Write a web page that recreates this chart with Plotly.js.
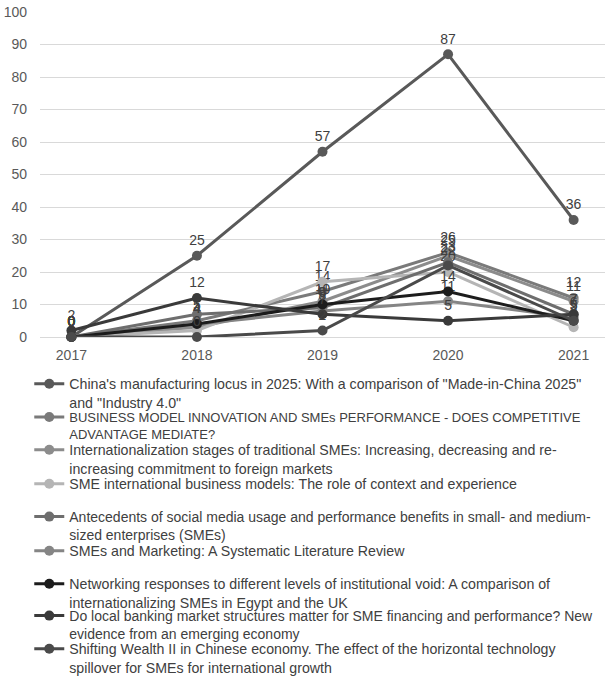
<!DOCTYPE html>
<html>
<head>
<meta charset="utf-8">
<script src="https://cdn.plot.ly/plotly-3.0.1.min.js"></script>
<style>html,body{margin:0;padding:0;background:#fff;}#chart{width:614px;height:681px;}</style>
</head>
<body>
<div id="chart"></div>
<script>
const years = [2017, 2018, 2019, 2020, 2021];
const seriesNames = [
  "China's manufacturing locus in 2025: With a comparison of \"Made-in-China 2025\"<br>and \"Industry 4.0\"",
  "BUSINESS MODEL INNOVATION AND SMEs PERFORMANCE - DOES COMPETITIVE<br>ADVANTAGE MEDIATE?",
  "Internationalization stages of traditional SMEs: Increasing, decreasing and re-<br>increasing commitment to foreign markets",
  "SME international business models: The role of context and experience",
  "Antecedents of social media usage and performance benefits in small- and medium-<br>sized enterprises (SMEs)",
  "SMEs and Marketing: A Systematic Literature Review",
  "Networking responses to different levels of institutional void: A comparison of<br>internationalizing SMEs in Egypt and the UK",
  "Do local banking market structures matter for SME financing and performance? New<br>evidence from an emerging economy",
  "Shifting Wealth II in Chinese economy. The effect of the horizontal technology<br>spillover for SMEs for international growth"
];
const s1 = [0, 25, 57, 87, 36];
const s2 = [0, 5, 14, 26, 12];
const s3 = [0, 3, 11, 25, 11];
const s4 = [0, 2, 17, 20, 3];
const s5 = [0, 7, 9, 23, 7];
const s6 = [0, 4, 8, 11, 6];
const s7 = [0, 4, 10, 14, 5];
const s8 = [2, 12, 7, 5, 7];
const s9 = [0, 0, 2, 22, 5];
const seriesValues = [s1, s2, s3, s4, s5, s6, s7, s8, s9];
const colors = ["#595959", "#7a7a7a", "#8c8c8c", "#b5b5b5", "#6e6e6e", "#858585", "#1c1c1c", "#3a3a3a", "#4a4a4a"];
const yTicks = [0, 10, 20, 30, 40, 50, 60, 70, 80, 90, 100];

const FONT = "Liberation Sans, Arial, sans-serif";
const W = 614, H = 681;
const M = {l: 40, r: 9, t: 12, b: 344};
const plotH = H - M.t - M.b;

const legendKey = i => (i === 0 ? "legend" : "legend" + (i + 1));

const traces = seriesValues.map((vals, i) => ({
  x: years,
  y: vals,
  name: seriesNames[i],
  legend: legendKey(i),
  type: "scatter",
  mode: "lines+markers+text",
  text: vals.map(String),
  textposition: "top center",
  textfont: {family: FONT, size: 14, color: "#404040"},
  line: {color: colors[i], width: 3},
  marker: {color: colors[i], size: 10},
  cliponaxis: false
}));

const layout = {
  width: W,
  height: H,
  margin: {l: M.l, r: M.r, t: M.t, b: M.b, autoexpand: false},
  paper_bgcolor: "#ffffff",
  plot_bgcolor: "#ffffff",
  showlegend: true,
  font: {family: FONT, color: "#404040"},
  xaxis: {
    range: [2016.75, 2021.25],
    tickmode: "array",
    tickvals: years,
    ticktext: years.map(String),
    showgrid: false,
    zeroline: false,
    showline: false,
    ticks: "",
    ticklabelstandoff: 8,
    tickfont: {family: FONT, size: 14, color: "#595959"},
    fixedrange: true
  },
  yaxis: {
    range: [0, 100],
    tickmode: "array",
    tickvals: yTicks,
    showgrid: true,
    gridcolor: "#d9d9d9",
    gridwidth: 1,
    zeroline: true,
    zerolinecolor: "#d9d9d9",
    zerolinewidth: 1,
    showline: false,
    ticks: "",
    ticklabelstandoff: 12,
    tickfont: {family: FONT, size: 14, color: "#595959"},
    fixedrange: true
  }
};

// top of each legend entry (pixels from top of figure)
const entryTops = [368, 402, 434, 468, 501, 535, 568, 600, 633];
const entryFont = [14.2, 13, 14.2, 14.2, 14, 14.2, 14.2, 14, 14.2];
entryTops.forEach((top, i) => {
  layout[legendKey(i)] = {
    orientation: "v",
    x: -0.019,
    xanchor: "left",
    y: (H - M.b - top) / plotH,
    yanchor: "top",
    valign: "top",
    font: {family: FONT, size: entryFont[i], color: "#404040"},
    itemwidth: 30,
    bgcolor: "rgba(0,0,0,0)"
  };
});

Plotly.newPlot("chart", traces, layout, {displayModeBar: false, staticPlot: true});
</script>
</body>
</html>
